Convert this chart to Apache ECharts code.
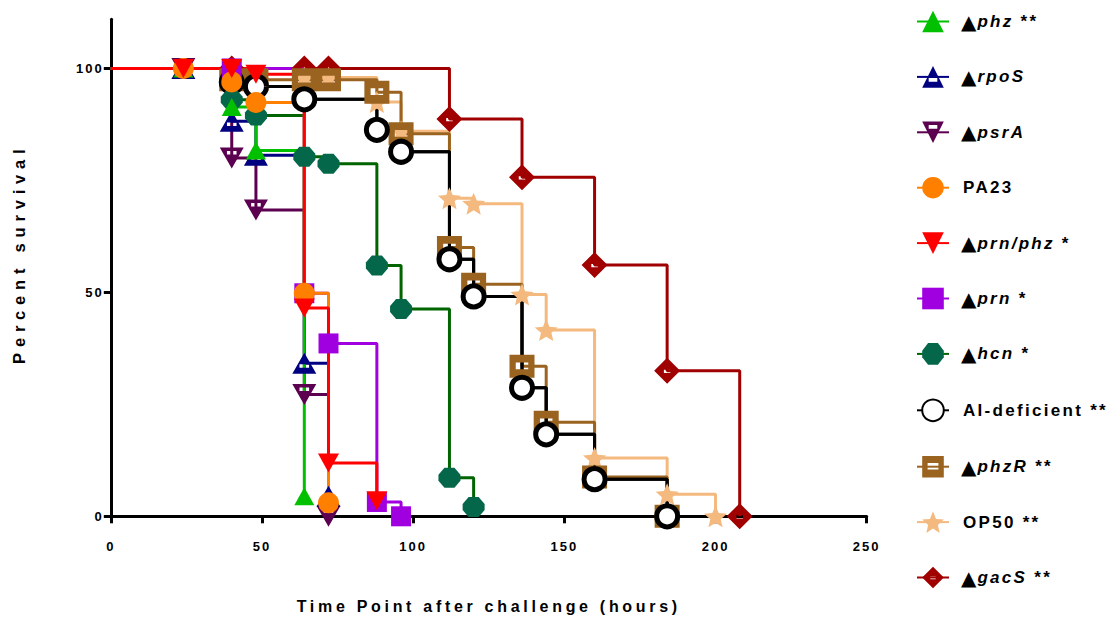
<!DOCTYPE html>
<html>
<head>
<meta charset="utf-8">
<script src="https://cdn.jsdelivr.net/npm/echarts@6/dist/echarts.min.js"></script>
<style>
html, body { margin: 0; padding: 0; background: #fff; }
#chart { width: 1117px; height: 621px; }
#chart text[style*="13px"] { letter-spacing: 2px; }
#chart text[style*="16px"] { letter-spacing: 3.7px; }
#chart text[style*="16.5px"] { letter-spacing: 5.8px; }
#chart text[style*="17px"] { letter-spacing: 2.3px; }
</style>
</head>
<body>
<div id="chart"></div>
<script>
// ---------------- DATA (time in hours, percent survival) ----------------
const seriesNames = ['phz', 'rpoS', 'psrA', 'PA23', 'prn/phz', 'prn', 'hcn', 'AI-deficient', 'phzR', 'OP50', 'gacS'];
const legendLabels = [
  '{t|▲}{i|phz} **',
  '{t|▲}{i|rpoS}',
  '{t|▲}{i|psrA}',
  '{n|PA23}',
  '{t|▲}{i|prn/phz} *',
  '{t|▲}{i|prn} *',
  '{t|▲}{i|hcn} *',
  '{n|AI-deficient} **',
  '{t|▲}{i|phzR} **',
  '{n|OP50} **',
  '{t|▲}{i|gacS} **'
];
const xTicks = [0, 50, 100, 150, 200, 250];
const yTicks = [0, 50, 100];
const xTitle = 'Time Point after challenge (hours)';
const yTitle = 'Percent survival';

const phzData     = [[0,100],[24,100],[40,91.4],[48,81.7],[64,4.5]];
const rpoSData    = [[0,100],[24,100],[40,88.2],[48,80.6],[64,34.2],[72,4.5]];
const psrAData    = [[0,100],[24,100],[40,80],[48,68.4],[64,27.2],[72,0]];
const pa23Data    = [[0,100],[24,100],[40,97],[48,92.4],[64,49.8],[72,3]];
const prnPhzData  = [[0,100],[24,100],[40,100],[48,98.7],[64,46.5],[72,11.9],[88,3.5]];
const prnData     = [[0,100],[40,100],[64,49.8],[72,38.6],[88,3.2],[96,0]];
const hcnData     = [[0,100],[40,93],[48,89.5],[64,80.3],[72,78.7],[88,56],[96,46.3],[112,8.6],[120,2.1]];
const aiData      = [[0,100],[40,97],[48,96],[64,93.1],[88,86.3],[96,81.4],[112,57.4],[120,49.1],[136,28.7],[144,18.3],[160,8.3],[184,0]];
const phzRData    = [[0,100],[40,97.5],[48,97.5],[64,97.5],[72,97.5],[88,94.7],[96,85.4],[112,60],[120,51.8],[136,33.5],[144,21],[160,8.8],[184,0]];
const op50Data    = [[0,100],[64,98],[72,98],[88,92.5],[96,86],[112,71],[120,69.8],[136,49.5],[144,41.6],[160,13],[184,4.9],[200,0]];
const gacSData    = [[0,100],[40,100],[64,100],[72,100],[112,88.7],[136,75.7],[160,56.1],[184,32.5],[208,0]];

// ---------------- STYLE ----------------
const FONT = 'Liberation Sans';
const spacingBySize = { '13': 2, '16': 3.7, '16.5': 5.8, '17': 2.3 };

if (echarts.setPlatformAPI) {
  const mctx = document.createElement('canvas').getContext('2d');
  echarts.setPlatformAPI({
    measureText: function (text, font) {
      mctx.font = font || '12px sans-serif';
      const m = mctx.measureText(text);
      const mm = /([\d.]+)px/.exec(font || '');
      const sp = mm && spacingBySize[mm[1]] ? spacingBySize[mm[1]] : 0;
      return {
        width: m.width + sp * text.length,
        actualBoundingBoxAscent: m.actualBoundingBoxAscent,
        actualBoundingBoxDescent: m.actualBoundingBoxDescent,
        actualBoundingBoxLeft: m.actualBoundingBoxLeft,
        actualBoundingBoxRight: m.actualBoundingBoxRight,
        fontBoundingBoxAscent: m.fontBoundingBoxAscent,
        fontBoundingBoxDescent: m.fontBoundingBoxDescent
      };
    }
  });
}

const STAR = 'path://M10 0 L12.65 6.36 L19.51 6.91 L14.28 11.39 L15.88 18.09 L10 14.5 L4.12 18.09 L5.72 11.39 L0.49 6.91 L7.35 6.36 Z';

const symbols = {
  phz:   { symbol: 'triangle', size: [20, 18], color: '#00c000', line: '#00c000' },
  rpoS:  { symbol: 'path://M10 0 L20 18 L0 18 Z M6 10 L6 13 L14 13 L14 10 Z', size: [24, 21], color: '#000080', line: '#000080' },
  psrA:  { symbol: 'path://M0 0 L20 0 L10 18 Z M6 3 L6 6 L14 6 L14 3 Z', size: [24, 21], color: '#5c0050', line: '#5c0050' },
  PA23:  { symbol: 'circle', size: 21, color: '#ff8000', line: '#ff8000' },
  'prn/phz': { symbol: 'triangle', size: [21, 19], color: '#ff0000', line: '#ff0000', rotate: 180 },
  prn:   { symbol: 'rect', size: 20, color: '#a000e0', line: '#a000e0' },
  hcn:   { symbol: 'path://M6 0 L16 0 L22 7 L22 13 L16 20 L6 20 L0 13 L0 7 Z', size: [22, 20], color: '#05674a', line: '#006400' },
  'AI-deficient': { symbol: 'circle', size: 21, color: '#ffffff', line: '#000000', border: '#000000', borderWidth: 5 },
  phzR:  { symbol: 'path://M0 0 L24 0 L24 24 L0 24 Z M6 8 L6 15 L18 15 L18 8 Z', size: [25, 23], color: '#9a6420', line: '#9a6420' },
  OP50:  { symbol: STAR, size: [23, 22], color: '#f4b97e', line: '#f4b97e' },
  gacS:  { symbol: 'path://M12 0 L24 12 L12 24 L0 12 Z M9 11 L9 14 L15 14 L15 11 Z', size: [26, 26], color: '#a00000', line: '#a00000' }
};

const dataByName = {
  'phz': phzData, 'rpoS': rpoSData, 'psrA': psrAData, 'PA23': pa23Data,
  'prn/phz': prnPhzData, 'prn': prnData, 'hcn': hcnData, 'AI-deficient': aiData,
  'phzR': phzRData, 'OP50': op50Data, 'gacS': gacSData
};

// drawing order (later = on top)
const drawOrder = ['gacS', 'OP50', 'phzR', 'AI-deficient', 'AI-line', 'hcn', 'prn', 'psrA', 'rpoS', 'phz', 'PA23', 'prn/phz'];

function makeSeries(name) {
  if (name === 'AI-line') {
    return {
      name: 'AI-deficient line', type: 'line', step: 'end', data: aiData,
      symbol: 'none', silent: true,
      lineStyle: { color: '#000', width: 3 }
    };
  }
  const s = symbols[name];
  const data = dataByName[name].map(function (p, i) {
    return i === 0 ? { value: p, symbol: 'none' } : p;
  });
  return {
    name: name, type: 'line', step: 'end', data: data,
    symbol: s.symbol, symbolSize: s.size, symbolRotate: s.rotate || 0,
    showAllSymbol: true,
    lineStyle: { color: s.line, width: 3 },
    itemStyle: {
      color: s.color, opacity: 1,
      borderColor: s.border || s.color,
      borderWidth: s.borderWidth || 0
    },
    emphasis: { disabled: true }
  };
}

const chart = echarts.init(document.getElementById('chart'), null, { renderer: 'svg', width: 1117, height: 621 });

const labelMap = {};
seriesNames.forEach(function (n, i) { labelMap[n] = legendLabels[i]; });

const option = {
  animation: false,
  backgroundColor: '#ffffff',
  grid: { left: 107.7, right: 250.3, top: 19.2, bottom: 99.3, containLabel: false },
  legend: {
    orient: 'vertical',
    left: 916, top: 10.7, padding: 0,
    itemWidth: 32, itemHeight: 27, itemGap: 33.8,
    selectedMode: false,
    data: seriesNames,
    formatter: function (name) { return labelMap[name]; },
    textStyle: {
      fontFamily: FONT, fontSize: 17, fontWeight: 'bold', color: '#000',
      rich: {
        t: { fontFamily: 'DejaVu Sans', fontSize: 20, color: '#000', padding: [0, 1, 0, 7] },
        i: { fontFamily: FONT, fontSize: 17, fontWeight: 'bold', fontStyle: 'italic', color: '#000' },
        n: { fontFamily: FONT, fontSize: 17, fontWeight: 'bold', color: '#000', padding: [0, 0, 0, 9] }
      }
    }
  },
  xAxis: {
    type: 'value', min: xTicks[0], max: xTicks[xTicks.length - 1], interval: 50,
    name: xTitle, nameLocation: 'middle', nameGap: 80,
    nameTextStyle: { fontFamily: FONT, fontSize: 16, fontWeight: 'bold', color: '#000' },
    axisLine: { show: true, onZero: false, lineStyle: { color: '#000', width: 3 } },
    axisTick: { show: true, length: 7, lineStyle: { color: '#000', width: 3 } },
    axisLabel: { margin: 23, fontFamily: FONT, fontSize: 13, fontWeight: 'bold', color: '#000' },
    splitLine: { show: false }
  },
  yAxis: {
    type: 'value', min: 0, max: 111, interval: 50,
    name: yTitle, nameLocation: 'middle', nameGap: 80, nameRotate: 90,
    nameTextStyle: { fontFamily: FONT, fontSize: 16.5, fontWeight: 'bold', color: '#000', padding: [0, 0, 0, 28] },
    axisLine: { show: true, onZero: false, lineStyle: { color: '#000', width: 3 } },
    axisTick: { show: true, length: 7, customValues: yTicks, lineStyle: { color: '#000', width: 3 } },
    axisLabel: { margin: 7, customValues: yTicks, fontFamily: FONT, fontSize: 13, fontWeight: 'bold', color: '#000' },
    splitLine: { show: false }
  },
  series: drawOrder.map(makeSeries)
};

chart.setOption(option);
</script>
</body>
</html>
